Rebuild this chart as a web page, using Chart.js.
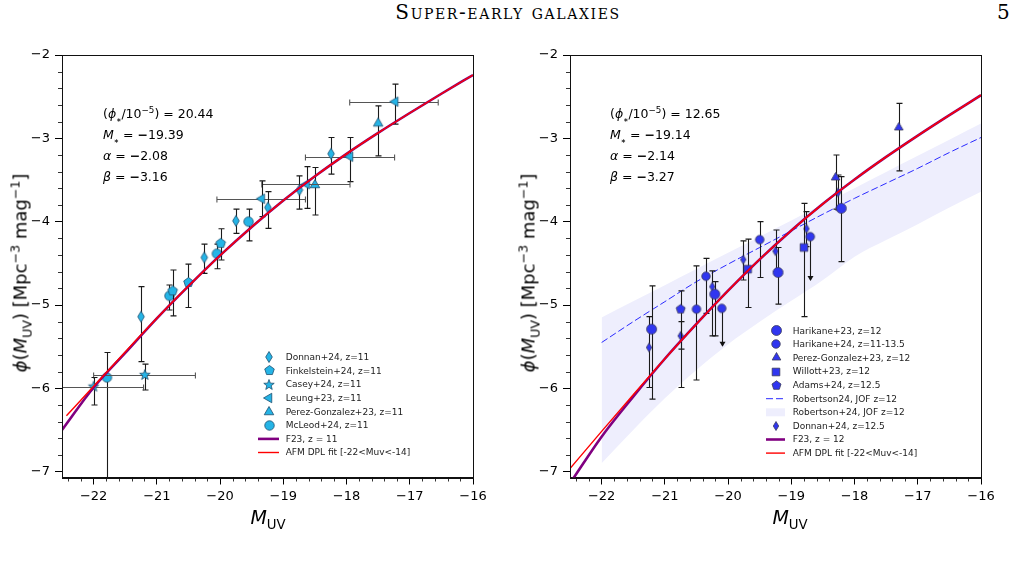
<!DOCTYPE html>
<html>
<head>
<meta charset="utf-8">
<script src="https://cdn.jsdelivr.net/npm/chart.js@4.4.0/dist/chart.umd.min.js"></script>
<style>
  body { margin: 0; background: #fff; }
  #page { position: relative; width: 1016px; height: 561px; overflow: hidden; font-family: "DejaVu Sans", sans-serif; color: #000; }
  canvas { position: absolute; top: 40px; }
  #cL { left: 0; }
  #cR { left: 508px; }
  .hdr { position: absolute; top: 0px; font-family: "DejaVu Serif", "Liberation Serif", serif; font-size: 20px; }
  .ylab { position: absolute; font-size: 18px; white-space: nowrap; transform: translate(-50%, -50%) rotate(-90deg); }
  .xlab { position: absolute; top: 506px; font-size: 19px; transform: translateX(-50%); white-space: nowrap; }
  .par { position: absolute; font-size: 12.5px; line-height: 21px; white-space: nowrap; }
  sub, sup { font-size: 70%; line-height: 0; }
  sub.star { font-size: 50%; }
</style>
</head>
<body>
<div id="page">
  <div class="hdr" style="left:0;width:1016px;text-align:center;font-variant:small-caps;letter-spacing:1.6px;">Super-early galaxies</div>
  <div class="hdr" style="left:997px;">5</div>
  <canvas id="cL" width="508" height="500"></canvas>
  <canvas id="cR" width="508" height="500"></canvas>
  <div class="ylab" style="left:20px;top:273px;"><i>ϕ</i>(<i>M</i><sub>UV</sub>) [Mpc<sup>−3</sup> mag<sup>−1</sup>]</div>
  <div class="ylab" style="left:528px;top:273px;"><i>ϕ</i>(<i>M</i><sub>UV</sub>) [Mpc<sup>−3</sup> mag<sup>−1</sup>]</div>
  <div class="xlab" style="left:268px;"><i>M</i><sub>UV</sub></div>
  <div class="xlab" style="left:790px;"><i>M</i><sub>UV</sub></div>
  <div class="par" id="parL" style="left:103px;top:103px;"></div>
  <div class="par" id="parR" style="left:610px;top:103px;"></div>
</div>

<script>
// ---- fit parameters shown in the panels ----
const params11 = [20.44, -19.39, -2.08, -3.16];
const params12 = [12.65, -19.14, -2.14, -3.27];

// ---- model curves (log phi) ----
const fitM = [-22.5, -22, -21.5, -21, -20.5, -20, -19.5, -19, -18.5, -18, -17.5, -17, -16.5, -16];
const f23z11 = [-6.50, -5.99, -5.575, -5.16, -4.773, -4.405, -4.063, -3.746, -3.455, -3.186, -2.935, -2.696, -2.465, -2.240];
const afmM11 = [-22.43, -22, -21.5, -21, -20.5, -20, -19.5, -19, -18.5, -18, -17.5, -17, -16.5, -16];
const afmZ11 = [-6.33, -5.976, -5.563, -5.160, -4.773, -4.405, -4.063, -3.746, -3.455, -3.186, -2.935, -2.696, -2.465, -2.240];
const f23z12 = [-7.14, -6.58, -6.10, -5.645, -5.227, -4.828, -4.452, -4.105, -3.786, -3.494, -3.223, -2.967, -2.721, -2.482];
const afmZ12 = [-6.962, -6.516, -6.077, -5.645, -5.227, -4.828, -4.452, -4.105, -3.786, -3.494, -3.223, -2.967, -2.721, -2.482];

// Robertson+24 JOF curve and band
const robM = [-22, -21.5, -21, -20.5, -20, -19.5, -19, -18.5, -18, -17.5, -17, -16.5, -16];
const robMid = [-5.45, -5.20, -4.96, -4.72, -4.51, -4.31, -4.11, -3.91, -3.72, -3.54, -3.36, -3.17, -2.99];
const robHi = [-5.15, -4.956, -4.762, -4.568, -4.374, -4.18, -3.986, -3.792, -3.598, -3.404, -3.21, -3.016, -2.822];
const robLo = [-6.90, -6.50, -6.12, -5.78, -5.47, -5.20, -4.95, -4.70, -4.42, -4.22, -4.03, -3.83, -3.64];

// ---- z = 11 data ----
const donnan11M = [-18.245, -18.745, -19.245, -19.75, -20.25, -21.25];
const donnan11 = [-3.185, -3.62, -3.83, -3.99, -4.43, -5.14];
const donnan11Lo = [-3.43, -3.85, -4.08, -4.14, -4.62, -5.68];
const donnan11Hi = [-2.99, -3.45, -3.64, -3.85, -4.27, -4.78];

const finkM = [-19.99, -20.5, -20.75];
const fink = [-4.26, -4.73, -4.83];
const finkLo = [-4.46, -5.03, -5.13];
const finkHi = [-4.085, -4.51, -4.58];

const caseyM = [-21.19, -22.0];
const casey = [-5.84, -5.98];
const caseyLo = [-6.02, -6.20];
const caseyHi = [-5.71, -5.87];
const caseyMLo = [-22.0, -22.8];
const caseyMHi = [-20.39, -21.21];

const leungM = [-17.23, -17.945, -18.63, -19.34];
const leung = [-2.56, -3.22, -3.55, -3.725];
const leungLo = [-2.83, -3.52, -3.84, -3.94];
const leungHi = [-2.35, -2.99, -3.34, -3.51];
const leungMLo = [-17.95, -18.65, -19.34, -20.05];
const leungMHi = [-16.55, -17.24, -17.945, -18.65];

const pg11M = [-17.50, -18.5];
const pg11 = [-2.82, -3.56];
const pg11Lo = [-3.21, -3.92];
const pg11Hi = [-2.61, -3.35];

const mcleodM = [-19.55, -20.05, -20.8, -21.79];
const mcleod = [-4.0, -4.385, -4.89, -5.87];
const mcleodLo = [-4.23, -4.565, -5.06, -8.0];
const mcleodHi = [-3.85, -4.27, -4.76, -5.57];

// ---- z = 12 data ----
const h23M = [-21.21, -20.21, -19.21, -18.21];
const h23 = [-5.29, -4.87, -4.61, -3.84];
const h23Lo = [-6.13, -5.37, -4.99, -4.48];
const h23Hi = [-4.77, -4.72, -4.31, -3.46];

const h24M = [-20.50, -20.35, -20.10, -19.50, -18.70];
const h24 = [-5.05, -4.655, -5.04, -4.215, -4.18];
const h24Lo = [-5.90, -5.10, -5.49, -4.67, -4.70];
const h24Hi = [-4.53, -4.44, -5.04, -4.00, -4.18];
const h24Limit = [false, false, true, false, true];

const pg12M = [-18.30, -17.30];
const pg12 = [-3.47, -2.87];
const pg12Lo = [-3.85, -3.39];
const pg12Hi = [-3.20, -2.58];

const willottM = [-19.69, -18.80];
const willott = [-4.57, -4.31];
const willottLo = [-5.03, -5.14];
const willottHi = [-4.21, -3.78];

const adamsM = [-20.75];
const adams = [-5.05];
const adamsLo = [-5.99];
const adamsHi = [-4.83];

const donnan12M = [-21.25, -20.75, -20.25, -19.76, -19.25, -18.76, -18.26];
const donnan12 = [-5.51, -5.37, -4.78, -4.455, -4.355, -4.085, -3.65];
const donnan12Lo = [-5.99, -5.53, -5.37, -4.70, -4.60, -4.30, -3.86];
const donnan12Hi = [-5.14, -5.20, -4.59, -4.23, -4.10, -3.88, -3.44];

// ---- axes ----
const xTicks = [-22, -21, -20, -19, -18, -17, -16];
const yTicks = [-7, -6, -5, -4, -3, -2];

const xy = (xs, ys) => xs.map((x, i) => ({ x: x, y: ys[i] }));
const minus = v => (v < 0 ? '\u2212' : '') + Math.abs(v);

// marker glyphs drawn once into small canvases
function marker(shape, s, fill, edge) {
    const n = Math.ceil(s + 3);
    const c = document.createElement('canvas');
    c.width = n; c.height = n;
    const g = c.getContext('2d');
    const r = s / 2, cx = n / 2, cy = n / 2;
    const poly = (pts) => { pts.forEach((p, i) => i ? g.lineTo(cx + p[0], cy + p[1]) : g.moveTo(cx + p[0], cy + p[1])); g.closePath(); };
    const ring = (k, a0, rr) => Array.from({ length: k }, (_, i) => {
        const a = a0 + i * 2 * Math.PI / k;
        return [Math.cos(a) * rr(i), Math.sin(a) * rr(i)];
    });
    g.beginPath();
    if (shape === 'circle') g.arc(cx, cy, r, 0, 2 * Math.PI);
    else if (shape === 'square') g.rect(cx - r * 0.85, cy - r * 0.85, r * 1.7, r * 1.7);
    else if (shape === 'diamond') poly([[0, -r], [r * 0.6, 0], [0, r], [-r * 0.6, 0]]);
    else if (shape === 'triUp') poly(ring(3, -Math.PI / 2, () => r));
    else if (shape === 'triLeft') poly(ring(3, Math.PI, () => r));
    else if (shape === 'pentagon') poly(ring(5, -Math.PI / 2, () => r));
    else if (shape === 'star') poly(ring(10, -Math.PI / 2, i => (i % 2 ? r * 0.42 : r)));
    g.fillStyle = fill;
    g.fill();
    g.lineWidth = 0.8;
    g.strokeStyle = edge;
    g.stroke();
    return c;
}

const cyan = '#25b4e6', cyanEdge = '#1d4f6e';
const blue = '#3036f0', blueEdge = '#3a3a5a';

function pts(label, rank, xs, ys, lo, hi, img, extra) {
    return Object.assign({
        type: 'line', label: label, legendRank: rank, data: xy(xs, ys),
        showLine: false, pointStyle: img, pointRadius: 5, order: 2,
        yLo: lo, yHi: hi
    }, extra || {});
}
function curve(label, rank, xs, ys, color, width, extra) {
    return Object.assign({
        type: 'line', label: label, legendRank: rank, data: xy(xs, ys),
        borderColor: color, borderWidth: width, pointRadius: 0,
        cubicInterpolationMode: 'monotone', fill: false
    }, extra || {});
}

// error bars, drawn just below each marker dataset
const errorBars = {
    id: 'errorBars',
    beforeDatasetDraw(chart, args) {
        const ds = chart.data.datasets[args.index];
        if (!ds.yLo) return;
        const { ctx, chartArea: a } = chart;
        const xs = chart.scales.x, ys = chart.scales.y;
        ctx.save();
        ctx.beginPath();
        ctx.rect(a.left, a.top, a.right - a.left, a.bottom - a.top);
        ctx.clip();
        ctx.lineWidth = 1.1;
        ds.data.forEach((p, i) => {
            const px = Math.round(xs.getPixelForValue(p.x)) + 0.5;
            const py = ys.getPixelForValue(p.y);
            const lo = ys.getPixelForValue(ds.yLo[i]);
            const hi = ys.getPixelForValue(ds.yHi[i]);
            const lim = ds.limit && ds.limit[i];
            if (ds.xLo) {
                ctx.strokeStyle = '#555';
                const l = xs.getPixelForValue(ds.xLo[i]), r = xs.getPixelForValue(ds.xHi[i]);
                const yy = Math.round(py) + 0.5;
                ctx.beginPath();
                ctx.moveTo(l, yy); ctx.lineTo(r, yy);
                ctx.moveTo(l, yy - 3); ctx.lineTo(l, yy + 3);
                ctx.moveTo(r, yy - 3); ctx.lineTo(r, yy + 3);
                ctx.stroke();
            }
            ctx.strokeStyle = ds.errColor || '#1a1a1a';
            ctx.beginPath();
            ctx.moveTo(px, lo); ctx.lineTo(px, hi);
            if (!lim) { ctx.moveTo(px - 3, lo); ctx.lineTo(px + 3, lo); }
            if (hi < py - 0.5) { ctx.moveTo(px - 3, hi); ctx.lineTo(px + 3, hi); }
            ctx.stroke();
            if (lim) {
                ctx.fillStyle = '#111';
                ctx.beginPath();
                ctx.moveTo(px - 3, lo - 4); ctx.lineTo(px + 3, lo - 4); ctx.lineTo(px, lo + 1);
                ctx.closePath();
                ctx.fill();
            }
        });
        ctx.restore();
    }
};

// minor ticks and the closed frame
const frameTicks = {
    id: 'frameTicks',
    afterDraw(chart) {
        const { ctx, chartArea: a } = chart;
        const xs = chart.scales.x, ys = chart.scales.y;
        ctx.save();
        ctx.strokeStyle = '#000';
        ctx.lineWidth = 0.8;
        ctx.beginPath();
        for (let k = Math.ceil(xs.min / 0.2); k * 0.2 <= xs.max + 1e-9; k++) {
            const v = k * 0.2;
            if (Math.abs(v - Math.round(v)) < 1e-6) continue;
            const p = Math.round(xs.getPixelForValue(v)) + 0.5;
            ctx.moveTo(p, a.bottom); ctx.lineTo(p, a.bottom + 4);
        }
        for (let k = Math.ceil(ys.min / 0.2); k * 0.2 <= ys.max + 1e-9; k++) {
            const v = k * 0.2;
            if (Math.abs(v - Math.round(v)) < 1e-6) continue;
            const p = Math.round(ys.getPixelForValue(v)) + 0.5;
            ctx.moveTo(a.left, p); ctx.lineTo(a.left - 4, p);
        }
        ctx.stroke();
        ctx.lineWidth = 1;
        ctx.strokeStyle = '#111';
        ctx.strokeRect(Math.round(a.left) + 0.5, Math.round(a.top) + 0.5, Math.round(a.right - a.left), Math.round(a.bottom - a.top));
        ctx.restore();
    }
};

// legend placed inside the axes, like matplotlib
const legendPos = {
    cL: { y: 317.3, gap: 13.6, mx: 269, x0: 258, x1: 279, tx: 285.7 },
    cR: { y: 290.7, gap: 13.6, mx: 268, x0: 258, x1: 277, tx: 284.7 }
};
const insetLegend = {
    id: 'insetLegend',
    afterDraw(chart) {
        const L = legendPos[chart.canvas.id];
        const ctx = chart.ctx;
        const items = chart.data.datasets.filter(d => d.legendRank != null)
            .sort((a, b) => a.legendRank - b.legendRank);
        ctx.save();
        ctx.font = '9px "DejaVu Sans"';
        ctx.textBaseline = 'middle';
        items.forEach((d, i) => {
            const y = L.y + i * L.gap;
            if (d.pointStyle && typeof d.pointStyle === 'object') {
                ctx.drawImage(d.pointStyle, Math.round(L.mx - d.pointStyle.width / 2), Math.round(y - d.pointStyle.height / 2));
            } else if (d.fill) {
                ctx.fillStyle = d.backgroundColor;
                ctx.fillRect(L.x0, y - 4, L.x1 - L.x0, 8);
            } else {
                ctx.strokeStyle = d.borderColor;
                ctx.lineWidth = d.borderWidth;
                ctx.setLineDash(d.borderDash || []);
                ctx.beginPath();
                ctx.moveTo(L.x0, y); ctx.lineTo(L.x1, y);
                ctx.stroke();
                ctx.setLineDash([]);
            }
            ctx.fillStyle = '#222';
            ctx.fillText(d.label, L.tx, y + 0.5);
        });
        ctx.restore();
    }
};

function makePanel(id, datasets) {
    const axisFont = { family: 'DejaVu Sans', size: 13 };
    return new Chart(document.getElementById(id), {
        type: 'line',
        data: { datasets: datasets },
        options: {
            responsive: false,
            animation: false,
            events: [],
            layout: { padding: { top: 15, right: 35, left: 0, bottom: 0 } },
            plugins: { legend: { display: false }, tooltip: { enabled: false } },
            scales: {
                x: {
                    type: 'linear', min: -22.5, max: -16,
                    afterBuildTicks: s => { s.ticks = xTicks.map(v => ({ value: v })); },
                    afterFit: s => { s.height = 62.5; },
                    grid: { drawOnChartArea: false, tickLength: 7, tickColor: '#000' },
                    border: { color: '#111' },
                    ticks: { color: '#000', font: axisFont, padding: 4, autoSkip: false, maxRotation: 0, callback: minus }
                },
                y: {
                    type: 'linear', min: -7.07, max: -2,
                    afterBuildTicks: s => { s.ticks = yTicks.map(v => ({ value: v })); },
                    afterFit: s => { s.width = 62; },
                    grid: { drawOnChartArea: false, tickLength: 7, tickColor: '#000' },
                    border: { color: '#111' },
                    ticks: { color: '#000', font: axisFont, padding: 5, autoSkip: false, callback: minus }
                }
            }
        },
        plugins: [errorBars, frameTicks, insetLegend]
    });
}

// ---- left panel: z = 11 ----
makePanel('cL', [
    curve('AFM DPL fit [-22<Muv<-14]', 7, afmM11, afmZ11, '#ff0000', 1.4, { order: 0 }),
    curve('F23, z = 11', 6, fitM, f23z11, '#800080', 2.6, { order: 1 }),
    pts('Donnan+24, z=11', 0, donnan11M, donnan11, donnan11Lo, donnan11Hi, marker('diamond', 11, cyan, cyanEdge)),
    pts('Finkelstein+24, z=11', 1, finkM, fink, finkLo, finkHi, marker('pentagon', 10, cyan, cyanEdge)),
    pts('Casey+24, z=11', 2, caseyM, casey, caseyLo, caseyHi, marker('star', 11, cyan, cyanEdge), { xLo: caseyMLo, xHi: caseyMHi }),
    pts('Leung+23, z=11', 3, leungM, leung, leungLo, leungHi, marker('triLeft', 11, cyan, cyanEdge), { xLo: leungMLo, xHi: leungMHi }),
    pts('Perez-Gonzalez+23, z=11', 4, pg11M, pg11, pg11Lo, pg11Hi, marker('triUp', 11, cyan, cyanEdge)),
    pts('McLeod+24, z=11', 5, mcleodM, mcleod, mcleodLo, mcleodHi, marker('circle', 9.5, cyan, cyanEdge))
]);

// ---- right panel: z = 12 ----
makePanel('cR', [
    curve('AFM DPL fit [-22<Muv<-14]', 9, fitM, afmZ12, '#ff0000', 1.4, { order: 0 }),
    curve('F23, z = 12', 8, fitM, f23z12, '#800080', 2.6, { order: 1 }),
    pts('Harikane+23, z=12', 0, h23M, h23, h23Lo, h23Hi, marker('circle', 10, blue, blueEdge)),
    pts('Harikane+24, z=11-13.5', 1, h24M, h24, h24Lo, h24Hi, marker('circle', 8.5, blue, blueEdge), { limit: h24Limit }),
    pts('Perez-Gonzalez+23, z=12', 2, pg12M, pg12, pg12Lo, pg12Hi, marker('triUp', 10, blue, blueEdge)),
    pts('Willott+23, z=12', 3, willottM, willott, willottLo, willottHi, marker('square', 9, blue, blueEdge)),
    pts('Adams+24, z=12.5', 4, adamsM, adams, adamsLo, adamsHi, marker('pentagon', 9.5, blue, blueEdge)),
    pts('Donnan+24, z=12.5', 7, donnan12M, donnan12, donnan12Lo, donnan12Hi, marker('diamond', 9, blue, blueEdge)),
    curve('Robertson24, JOF z=12', 5, robM, robMid, '#2a2aff', 1, { borderDash: [7, 3], order: 3 }),
    curve('Robertson+24, JOF z=12', 6, robM, robHi, 'rgba(0,0,0,0)', 0, { fill: '+1', backgroundColor: '#eeeefd', order: 4 }),
    curve(null, null, robM, robLo, 'rgba(0,0,0,0)', 0, { order: 5 })
]);

// ---- fit parameter text ----
function paramText(p) {
    const m = v => (v < 0 ? '<b>\u2212</b>' : '') + Math.abs(v).toFixed(2);
    return '(<i>ϕ</i><sub class="star">∗</sub>/10<sup>−5</sup>) = ' + p[0].toFixed(2) +
        '<br><i>M</i><sub class="star">∗</sub> = ' + m(p[1]) +
        '<br><i>α</i> = ' + m(p[2]) +
        '<br><i>β</i> = ' + m(p[3]);
}
document.getElementById('parL').innerHTML = paramText(params11);
document.getElementById('parR').innerHTML = paramText(params12);
</script>
</body>
</html>
